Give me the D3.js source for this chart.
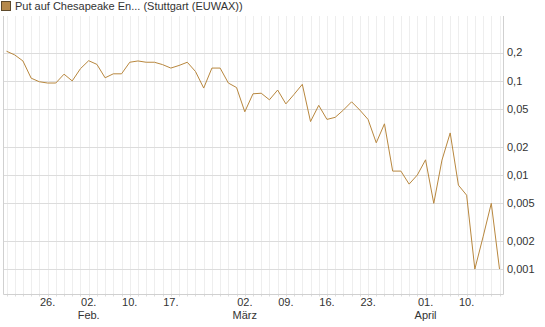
<!DOCTYPE html>
<html>
<head>
<meta charset="utf-8">
<script src="https://cdn.jsdelivr.net/npm/d3@7"></script>
<style>
  body { margin: 0; background: #fff; }
  svg { display: block; font-family: "Liberation Sans", Arial, sans-serif; }
</style>
</head>
<body>
<div id="chart"></div>
<script>
// Trading days (Feb 9 has no quote)
const dates = [
  "2015-01-19","2015-01-20","2015-01-21","2015-01-22","2015-01-23",
  "2015-01-26","2015-01-27","2015-01-28","2015-01-29","2015-01-30",
  "2015-02-02","2015-02-03","2015-02-04","2015-02-05","2015-02-06",
  "2015-02-10","2015-02-11","2015-02-12","2015-02-13",
  "2015-02-16","2015-02-17","2015-02-18","2015-02-19","2015-02-20",
  "2015-02-23","2015-02-24","2015-02-25","2015-02-26","2015-02-27",
  "2015-03-02","2015-03-03","2015-03-04","2015-03-05","2015-03-06",
  "2015-03-09","2015-03-10","2015-03-11","2015-03-12","2015-03-13",
  "2015-03-16","2015-03-17","2015-03-18","2015-03-19","2015-03-20",
  "2015-03-23","2015-03-24","2015-03-25","2015-03-26","2015-03-27",
  "2015-03-30","2015-03-31","2015-04-01","2015-04-02",
  "2015-04-07","2015-04-08","2015-04-09","2015-04-10",
  "2015-04-13","2015-04-14","2015-04-15","2015-04-16"
];

const prices = [
  0.207, 0.189, 0.163, 0.107, 0.098,
  0.095, 0.095, 0.118, 0.100, 0.135,
  0.164, 0.150, 0.108, 0.119, 0.119,
  0.158, 0.163, 0.158, 0.158,
  0.149, 0.137, 0.146, 0.158, 0.126,
  0.084, 0.137, 0.137, 0.095, 0.085,
  0.047, 0.073, 0.074, 0.063, 0.080,
  0.057, 0.072, 0.092, 0.037, 0.055,
  0.039, 0.041, 0.049, 0.060, 0.049,
  0.039, 0.022, 0.035, 0.011, 0.011,
  0.008, 0.010, 0.0145, 0.005,
  0.0144, 0.028, 0.0078, 0.0061,
  0.001, 0.0022, 0.005, 0.001
];

const xTickDates = ["2015-01-26","2015-02-02","2015-02-10","2015-02-17","2015-03-02",
                    "2015-03-09","2015-03-16","2015-03-23","2015-04-01","2015-04-10"];
const monthLabels = {"2015-02-02": "Feb.", "2015-03-02": "März", "2015-04-01": "April"};

const yTicks = [0.2, 0.1, 0.05, 0.02, 0.01, 0.005, 0.002, 0.001];
const yTickLabels = ["0,2", "0,1", "0,05", "0,02", "0,01", "0,005", "0,002", "0,001"];
const yDomain = [0.00055, 0.49];

const legendText = "Put auf Chesapeake En... (Stuttgart (EUWAX))";
const lineColor = "#b8873e";

const width = 545, height = 327;
const plot = {left: 3, right: 503, top: 16, bottom: 293.5};

const svg = d3.select("#chart").append("svg")
  .attr("width", width)
  .attr("height", height);

const x = d3.scaleLinear()
  .domain([0, dates.length - 1])
  .range([6.5, 499.5]);

const y = d3.scaleLog()
  .domain(yDomain)
  .range([plot.bottom, plot.top]);

const px = v => Math.round(v) + 0.5;

// vertical grid, one line per trading day
svg.append("g")
  .selectAll("line")
  .data(dates)
  .enter().append("line")
  .attr("x1", (d, i) => px(x(i)))
  .attr("x2", (d, i) => px(x(i)))
  .attr("y1", plot.top)
  .attr("y2", plot.bottom)
  .attr("stroke", "#eeeeee");

// small ticks under the axis
svg.append("g")
  .selectAll("line")
  .data(dates)
  .enter().append("line")
  .attr("x1", (d, i) => px(x(i)))
  .attr("x2", (d, i) => px(x(i)))
  .attr("y1", plot.bottom)
  .attr("y2", plot.bottom + 3)
  .attr("stroke", "#dddddd");

// horizontal grid
svg.append("g")
  .selectAll("line")
  .data(yTicks)
  .enter().append("line")
  .attr("x1", plot.left)
  .attr("x2", plot.right)
  .attr("y1", d => px(y(d)))
  .attr("y2", d => px(y(d)))
  .attr("stroke", "#dcdcdc");

// frame: left, right, bottom
svg.append("path")
  .attr("d", `M${plot.left + 0.5},${plot.top}V${px(plot.bottom)}H${plot.right + 0.5}V${plot.top}`)
  .attr("fill", "none")
  .attr("stroke", "#d0d0d0");

// y labels on the right
svg.append("g")
  .selectAll("text")
  .data(yTicks)
  .enter().append("text")
  .attr("x", 507)
  .attr("y", d => y(d))
  .attr("dy", "0.35em")
  .attr("font-size", "11px")
  .attr("fill", "#333")
  .text((d, i) => yTickLabels[i]);

// x labels
const xLabels = svg.append("g")
  .selectAll("g")
  .data(xTickDates)
  .enter().append("g")
  .attr("transform", d => `translate(${x(dates.indexOf(d))},0)`);

xLabels.append("text")
  .attr("y", 306)
  .attr("text-anchor", "middle")
  .attr("font-size", "11px")
  .attr("fill", "#333")
  .text(d => d.slice(8) + ".");

xLabels.filter(d => monthLabels[d])
  .append("text")
  .attr("y", 319)
  .attr("text-anchor", "middle")
  .attr("font-size", "11px")
  .attr("fill", "#333")
  .text(d => monthLabels[d]);

// price line
const line = d3.line()
  .x((d, i) => x(i))
  .y(d => y(d));

svg.append("path")
  .datum(prices)
  .attr("fill", "none")
  .attr("stroke", lineColor)
  .attr("stroke-width", 1)
  .attr("stroke-linejoin", "round")
  .attr("d", line);

// legend
svg.append("rect")
  .attr("x", 1.5)
  .attr("y", 1.5)
  .attr("width", 9)
  .attr("height", 9)
  .attr("fill", "#b5894c")
  .attr("stroke", "#5e4a2c");

svg.append("text")
  .attr("x", 15)
  .attr("y", 10)
  .attr("font-size", "11px")
  .attr("fill", "#333")
  .text(legendText);
</script>
</body>
</html>
